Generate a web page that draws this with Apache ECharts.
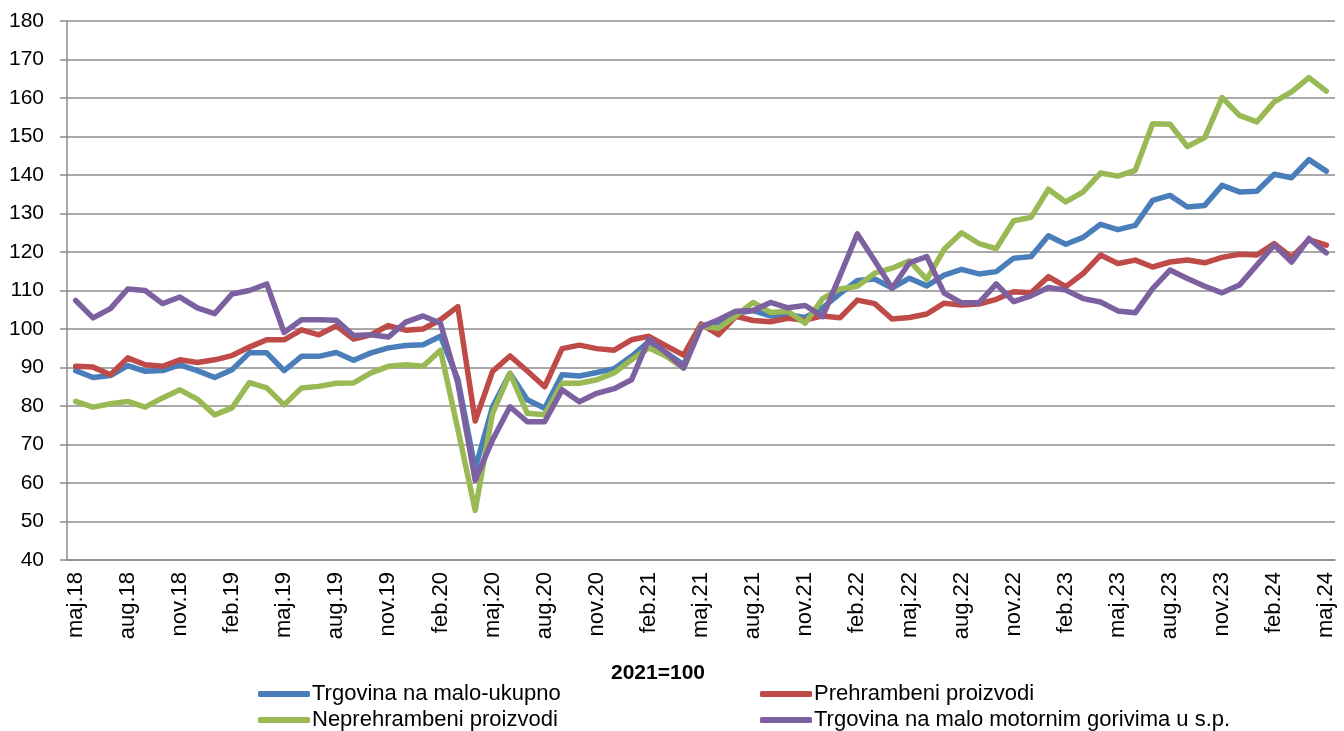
<!DOCTYPE html>
<html>
<head>
<meta charset="utf-8">
<script src="https://cdn.jsdelivr.net/npm/echarts@6/dist/echarts.min.js"></script>
<style>
  html, body { margin: 0; padding: 0; background: #fff; }
  #chart { width: 1344px; height: 731px; }
</style>
</head>
<body>
<div id="chart"></div>
<script>
var months = [
  'maj.18','jun.18','jul.18','aug.18','sep.18','okt.18','nov.18','dec.18',
  'jan.19','feb.19','mar.19','apr.19','maj.19','jun.19','jul.19','aug.19','sep.19','okt.19','nov.19','dec.19',
  'jan.20','feb.20','mar.20','apr.20','maj.20','jun.20','jul.20','aug.20','sep.20','okt.20','nov.20','dec.20',
  'jan.21','feb.21','mar.21','apr.21','maj.21','jun.21','jul.21','aug.21','sep.21','okt.21','nov.21','dec.21',
  'jan.22','feb.22','mar.22','apr.22','maj.22','jun.22','jul.22','aug.22','sep.22','okt.22','nov.22','dec.22',
  'jan.23','feb.23','mar.23','apr.23','maj.23','jun.23','jul.23','aug.23','sep.23','okt.23','nov.23','dec.23',
  'jan.24','feb.24','mar.24','apr.24','maj.24'
];

var ukupno = [
  89.2, 87.4, 87.9, 90.5, 89.0, 89.2, 90.7, 89.2, 87.4, 89.4, 93.8, 93.8,
  89.2, 92.9, 92.9, 93.9, 91.9, 93.8, 95.1, 95.7, 95.9, 98.1, 87.0, 63.7,
  79.8, 88.5, 81.6, 79.4, 88.1, 87.8, 88.7, 89.7, 92.9, 96.7, 93.8, 90.7,
  100.8, 101.7, 104.1, 104.8, 103.4, 103.7, 103.0, 105.5, 109.2, 112.6, 113.0, 110.6,
  113.2, 111.2, 114.0, 115.5, 114.3, 114.9, 118.4, 118.8, 124.2, 122.0, 123.8, 127.2,
  125.8, 126.9, 133.4, 134.7, 131.7, 132.1, 137.3, 135.6, 135.8, 140.2, 139.3, 144.0,
  141.0
];

var prehrambeni = [
  90.3, 90.1, 88.1, 92.5, 90.7, 90.3, 92.0, 91.3, 92.0, 93.1, 95.3, 97.2,
  97.2, 99.8, 98.5, 100.8, 97.4, 98.5, 100.9, 99.7, 100.0, 102.4, 105.8, 76.1,
  89.0, 93.0, 89.1, 85.0, 94.9, 95.8, 94.9, 94.5, 97.2, 98.1, 95.6, 93.2,
  101.3, 98.5, 103.3, 102.2, 101.9, 102.8, 102.3, 103.4, 102.9, 107.5, 106.6, 102.6,
  103.0, 103.9, 106.7, 106.2, 106.5, 107.7, 109.7, 109.4, 113.6, 111.0, 114.4, 119.2,
  117.0, 117.9, 116.1, 117.4, 117.9, 117.2, 118.6, 119.4, 119.2, 122.2, 118.6, 123.2,
  121.8
];

var neprehrambeni = [
  81.2, 79.7, 80.6, 81.2, 79.7, 82.1, 84.2, 81.8, 77.7, 79.5, 86.1, 84.7,
  80.3, 84.7, 85.1, 85.9, 86.0, 88.6, 90.3, 90.7, 90.3, 94.5, 74.0, 52.9,
  78.1, 88.5, 78.1, 77.7, 85.9, 85.9, 86.8, 88.6, 92.0, 95.1, 92.9, 89.8,
  100.8, 100.2, 103.4, 106.9, 104.3, 104.6, 101.5, 107.9, 110.4, 111.1, 114.5, 115.8,
  117.7, 112.9, 120.7, 125.0, 122.2, 120.9, 128.1, 129.0, 136.3, 133.0, 135.6, 140.5,
  139.7, 141.2, 153.3, 153.2, 147.4, 149.7, 160.1, 155.5, 153.8, 159.0, 161.6, 165.3,
  161.8
];

var gorivo = [
  107.4, 102.9, 105.3, 110.4, 110.0, 106.6, 108.3, 105.5, 104.0, 109.1, 110.0, 111.7,
  99.1, 102.4, 102.4, 102.3, 98.3, 98.5, 97.9, 101.8, 103.4, 101.5, 86.0, 60.7,
  71.2, 79.8, 75.9, 75.9, 84.2, 81.1, 83.3, 84.5, 86.8, 97.4, 93.8, 89.9,
  100.5, 102.4, 104.6, 104.8, 106.9, 105.5, 106.1, 103.2, 113.8, 124.7, 117.7, 110.6,
  117.2, 118.8, 109.3, 106.8, 106.8, 111.7, 107.1, 108.6, 110.8, 110.1, 107.9, 107.0,
  104.7, 104.2, 110.5, 115.3, 113.1, 111.1, 109.4, 111.4, 116.6, 121.8, 117.4, 123.5,
  119.8
];

var seriesNames = [
  'Trgovina na malo-ukupno',
  'Prehrambeni proizvodi',
  'Neprehrambeni proizvodi',
  'Trgovina na malo motornim gorivima u s.p.'
];
var colors = ['#4A7EBB', '#BE4B48', '#98B954', '#7D60A0'];

var chart = echarts.init(document.getElementById('chart'));
var font = 'Liberation Sans, Arial, sans-serif';
var gridGray = '#8C8C8C';

function mkLegend(name, left, top) {
  return {
    data: [name],
    left: left,
    top: top,
    icon: 'roundRect',
    itemWidth: 52,
    itemHeight: 6,
    itemGap: 0,
    textStyle: { fontFamily: font, fontSize: 22, color: '#000', padding: [0, 0, 0, -3] }
  };
}

var option = {
  animation: false,
  color: colors,
  grid: { left: 67, right: 9, top: 21, bottom: 171, containLabel: false },
  legend: [
    mkLegend(seriesNames[0], 253, 678),
    mkLegend(seriesNames[1], 755, 678),
    mkLegend(seriesNames[2], 253, 704),
    mkLegend(seriesNames[3], 755, 704)
  ],
  graphic: [{
    type: 'text',
    left: 611,
    top: 663,
    style: { text: '2021=100', font: 'bold 21px ' + font, fill: '#000' }
  }],
  xAxis: {
    type: 'category',
    data: months,
    boundaryGap: true,
    axisLine: { lineStyle: { color: gridGray, width: 1.5 } },
    axisTick: { interval: 2, length: 7, alignWithLabel: false, lineStyle: { color: gridGray, width: 1.5 } },
    axisLabel: { interval: 2, rotate: 90, margin: 12, fontFamily: font, fontSize: 22, color: '#000' },
    splitLine: { show: false }
  },
  yAxis: {
    type: 'value',
    min: 40,
    max: 180,
    interval: 10,
    axisLine: { show: true, lineStyle: { color: gridGray, width: 1.5 } },
    axisTick: { show: true, length: 7, lineStyle: { color: gridGray, width: 1.5 } },
    axisLabel: { margin: 23, fontFamily: font, fontSize: 21, color: '#000' },
    splitLine: { lineStyle: { color: gridGray, width: 1.5 } }
  },
  series: [ukupno, prehrambeni, neprehrambeni, gorivo].map(function (vals, k) {
    return {
      name: seriesNames[k],
      type: 'line',
      data: vals,
      symbol: 'none',
      smooth: false,
      lineStyle: { width: 5.5, color: colors[k], join: 'round', cap: 'round' },
      itemStyle: { color: colors[k] }
    };
  })
};

chart.setOption(option);
</script>
</body>
</html>
